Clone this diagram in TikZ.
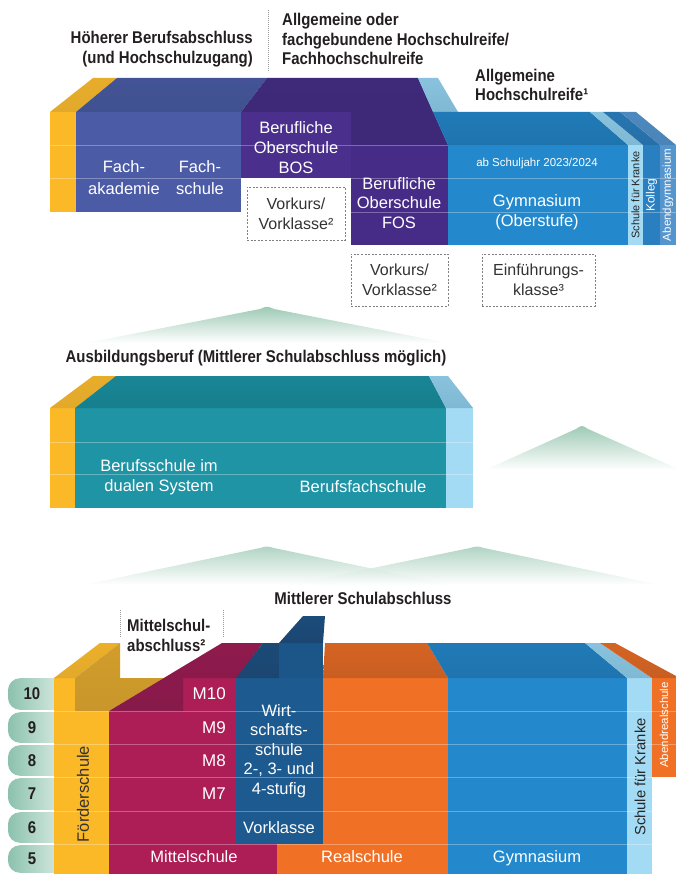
\documentclass[tikz,border=0pt]{standalone}
\usepackage{fontspec}
\setmainfont{Liberation Sans}
\newfontfamily\hdfont{Liberation Sans}[FakeStretch=0.88]
\definecolor{ink}{HTML}{231F20}
\definecolor{yel}{HTML}{FBB927}
\definecolor{yeltop}{HTML}{E2A92B}
\definecolor{gold}{HTML}{C8962B}
\definecolor{fab}{HTML}{4C5BA6}
\definecolor{fabtop}{HTML}{405190}
\definecolor{bos}{HTML}{4B2F8C}
\definecolor{fos}{HTML}{462C87}
\definecolor{purtop}{HTML}{3D2977}
\definecolor{gym}{HTML}{2389CC}
\definecolor{gymtop}{HTML}{1F74AE}
\definecolor{lbl}{HTML}{A3DBF5}
\definecolor{lbltop}{HTML}{7FB8D3}
\definecolor{kol}{HTML}{2A7FC0}
\definecolor{koltop}{HTML}{2670A8}
\definecolor{abg}{HTML}{5595CE}
\definecolor{abgtop}{HTML}{4A84B8}
\definecolor{tealc}{HTML}{1E94A5}
\definecolor{tealtop}{HTML}{177F8E}
\definecolor{mag}{HTML}{AD1D56}
\definecolor{magtop}{HTML}{871A4A}
\definecolor{wsb}{HTML}{1D5A8F}
\definecolor{wstop}{HTML}{1B4671}
\definecolor{ora}{HTML}{F07125}
\definecolor{oratop}{HTML}{C95E22}
\definecolor{hill}{HTML}{9CC9B4}
\definecolor{mint}{HTML}{8CC2AD}
\definecolor{mintl}{HTML}{EAF4F0}
\tikzset{
  hd/.style={font=\hdfont\bfseries\fontsize{17}{19.5}\selectfont, text=ink, inner sep=0pt},
  wt/.style={font=\fontsize{16.5}{#1}\selectfont, text=white, inner sep=0pt, align=center},
  wt/.default=20,
  bx/.style={font=\fontsize{16}{20}\selectfont, text=black!80, inner sep=0pt, align=center},
  num/.style={font=\hdfont\bfseries\fontsize{17}{19}\selectfont, text=ink, inner sep=0pt},
  dbox/.style={draw=black!50, dash pattern=on 2pt off 1.6pt, line width=0.7pt},
  dotl/.style={draw=black!40, dash pattern=on 0.8pt off 1.2pt, line width=0.6pt},
  rl/.style={draw=white, draw opacity=0.3, line width=0.8pt},
  tf/.style 2 args={top color=#1, bottom color=#2},
  hillsh/.style={top color=hill, middle color=hill!75!white, bottom color=white},
  rot/.style={rotate=90, inner sep=0pt},
}
\begin{document}
\begin{tikzpicture}[x=1pt,y=-1pt]
\useasboundingbox (0,0) rectangle (676,874);

% ---------------- hills
\shade[hillsh] (86,343) -- (260,309) .. controls (267,306) .. (274,309) -- (448,343) -- cycle;
\shade[hillsh] (485,470) -- (576,429) .. controls (582,425) .. (588,429) -- (676,468) -- (676,470) -- cycle;
\shade[hillsh, fill opacity=0.8] (83,585) -- (260,548) .. controls (267,546) .. (274,548) -- (450,585) -- cycle;
\shade[hillsh, fill opacity=0.8] (290,585) -- (470,548) .. controls (477,546) .. (484,548) -- (660,585) -- cycle;

% ---------------- headings top
\node[hd, anchor=east, align=right] (h1) at (253,49) {Höherer Berufsabschluss\\(und Hochschulzugang)};
\node[hd, anchor=west, align=left] (h2) at (282,39) {Allgemeine oder\\fachgebundene Hochschulreife/\\Fachhochschulreife};
\node[hd, anchor=west, align=left] (h3) at (475,85) {Allgemeine\\Hochschulreife¹};
\coordinate (d1a) at (268,10); \coordinate (d1b) at (268,72);
\draw[dotl] (d1a) -- (d1b);

% ---------------- top block
\fill[yel] (50,112) rectangle (76,212);
\shade[tf={yeltop!80!yel}{yeltop}] (50,112) -- (93,78) -- (117,78) -- (76,112) -- cycle;
\fill[fab] (76,112) rectangle (241,212);
\shade[tf={fabtop!75!fab}{fabtop}] (76,112) -- (117,78) -- (267,78) -- (241,112) -- cycle;
\shade[tf={purtop!80!fos}{purtop}] (241,112) -- (267,78) -- (418,78) -- (448,145) -- (351,145) -- (351,112) -- cycle;
\fill[bos] (241,112) rectangle (351,178);
\fill[fos] (351,145) rectangle (448,245);
\shade[tf={lbltop!70!lbl}{lbltop}] (418,78) -- (438,78) -- (458,112) -- (433,112) -- cycle;
\shade[tf={gymtop!70!gym}{gymtop}] (433,112) -- (590,112) -- (628,145) -- (448,145) -- cycle;
\shade[tf={lbltop!70!lbl}{lbltop}] (590,112) -- (603,112) -- (643,145) -- (628,145) -- cycle;
\shade[tf={koltop!70!kol}{koltop}] (603,112) -- (620,112) -- (660,145) -- (643,145) -- cycle;
\shade[tf={abgtop!70!abg}{abgtop}] (620,112) -- (636,112) -- (676,145) -- (660,145) -- cycle;
\fill[gym] (448,145) rectangle (628,245);
\fill[lbl] (628,145) rectangle (643,245);
\fill[kol] (643,145) rectangle (660,245);
\fill[abg] (660,145) rectangle (676,245);
\draw[rl] (50,145) -- (448,145);
\draw[rl] (50,178) -- (676,178);
\draw[rl] (351,212) -- (676,212);

\node[wt=22] (fak) at (124,178) {Fach-\\akademie};
\node[wt=22] (fsc) at (200,178) {Fach-\\schule};
\node[wt=20] (bos) at (296,148) {Berufliche\\Oberschule\\BOS};
\node[dbox, bx, minimum width=98pt, minimum height=53pt] (vk1) at (296,213.5) {Vorkurs/\\Vorklasse²};
\node[wt=19.5] (fos) at (399,203) {Berufliche\\Oberschule\\FOS};
\node[font=\fontsize{11.5}{13}\selectfont, text=white, inner sep=0pt] (sj) at (537,164) {ab Schuljahr 2023/2024};
\node[wt=20] (gyo) at (537,212.5) {Gymnasium\\(Oberstufe)};
\node[rot, font=\fontsize{11}{13}\selectfont, text=black!85] (sk1) at (635.5,195) {Schule für Kranke};
\node[rot, font=\fontsize{12}{13}\selectfont, text=white] (kol) at (651.5,195) {Kolleg};
\node[rot, font=\fontsize{11.5}{13}\selectfont, text=white] (abg) at (668,195) {Abendgymnasium};
\node[dbox, bx, minimum width=97pt, minimum height=52pt] (vk2) at (399.5,280) {Vorkurs/\\Vorklasse²};
\node[dbox, bx, minimum width=113pt, minimum height=52pt] (ek) at (538.5,280) {Einführungs-\\klasse³};

% ---------------- middle block
\node[hd] (ab) at (256,358) {Ausbildungsberuf (Mittlerer Schulabschluss möglich)};
\fill[yel] (50,408) rectangle (75,508);
\shade[tf={yeltop!80!yel}{yeltop}] (50,408) -- (93,376) -- (116,376) -- (75,408) -- cycle;
\fill[tealc] (75,408) rectangle (446,508);
\shade[tf={tealtop!70!tealc}{tealtop}] (75,408) -- (116,376) -- (429,376) -- (446,408) -- cycle;
\fill[lbl] (446,408) rectangle (473,508);
\shade[tf={lbltop!70!lbl}{lbltop}] (446,408) -- (429,376) -- (448,376) -- (473,408) -- cycle;
\draw[rl] (50,442) -- (473,442);
\draw[rl] (50,474) -- (473,474);
\node[wt=20] (bsd) at (159,477) {Berufsschule im\\dualen System};
\node[wt] (bfs) at (363,487) {Berufsfachschule};

% ---------------- bottom headings
\node[hd] (ms) at (363,598) {Mittlerer Schulabschluss};
\node[hd, anchor=west, align=left] (msa) at (127,635.5) {Mittelschul-\\abschluss²};
\coordinate (d2a) at (120,610); \coordinate (d2b) at (120,637);
\coordinate (d3a) at (223,610); \coordinate (d3b) at (223,637);
\draw[dotl] (d2a) -- (d2b);
\draw[dotl] (d3a) -- (d3b);

% ---------------- grade pills
\foreach \t/\b/\g in {677/711/10, 711/744/9, 744/777/8, 777/811/7, 811/844/6, 844/874/5}{
  \shade[left color=mint, right color=mintl, rounded corners=12pt] (8,\t+1.2) rectangle (75,\b-1.2);
}

% ---------------- bottom block
\fill[yel] (54,678) -- (75,678) -- (75,711) -- (109,711) -- (109,874) -- (54,874) -- cycle;
\shade[tf={yeltop!60!yel}{yeltop}] (54,678) -- (100,643) -- (120,643) -- (75,678) -- cycle;
\shade[tf={gold!80!yel}{gold}] (75,711) -- (109,711) -- (164,678) -- (120,678) -- (120,643) -- (75,678) -- cycle;
\fill[mag] (109,711) rectangle (236,844);
\fill[mag] (109,844) rectangle (277,874);
\fill[mag] (183,678) rectangle (236,711);
\shade[tf={magtop!80!mag}{magtop}] (109,711) -- (183,711) -- (183,678) -- (237,678) -- (263,643) -- (222,643) -- cycle;
\fill[wsb] (236,678) rectangle (323,844);
\shade[tf={wstop!80!wsb}{wstop}] (236,678) -- (263,643) -- (279,643) -- (279,678) -- cycle;
\fill[wsb!95!black] (279,643) rectangle (323,678);
\shade[tf={wstop!70!wsb}{wstop}] (279,643) -- (303,616) -- (325,616) -- (323,643) -- cycle;
\fill[ora] (323,678) -- (448,678) -- (448,874) -- (277,874) -- (277,844) -- (323,844) -- cycle;
\shade[tf={oratop!70!ora}{oratop}] (323,678) -- (325,643) -- (427,643) -- (448,678) -- cycle;
\fill[gym] (448,678) rectangle (627,874);
\shade[tf={gymtop!70!gym}{gymtop}] (448,678) -- (427,643) -- (585,643) -- (627,678) -- cycle;
\fill[lbl] (627,678) rectangle (652,874);
\shade[tf={lbltop!70!lbl}{lbltop}] (627,678) -- (585,643) -- (600,643) -- (652,678) -- cycle;
\fill[ora] (652,678) rectangle (676,777);
\shade[tf={oratop!70!ora}{oratop}] (652,678) -- (600,643) -- (615,643) -- (676,676) -- (676,678) -- cycle;

\draw[rl] (8,711) -- (676,711);
\draw[rl] (8,744) -- (676,744);
\draw[rl] (8,777) -- (652,777);
\draw[rl] (8,811) -- (652,811);
\draw[rl] (8,844) -- (652,844);

\node[num] (g10) at (32,694) {10};
\node[num] (g9) at (32,727.5) {9};
\node[num] (g8) at (32,760.5) {8};
\node[num] (g7) at (32,794) {7};
\node[num] (g6) at (32,827.5) {6};
\node[num] (g5) at (32,859) {5};

\node[rot, font=\fontsize{16.5}{20}\selectfont, text=black!80] (fs) at (83,794) {Förderschule};
\node[font=\fontsize{17}{20}\selectfont, text=white, anchor=east, inner sep=0pt] (m10) at (226,694) {M10};
\node[font=\fontsize{17}{20}\selectfont, text=white, anchor=east, inner sep=0pt] (m9) at (226,727.5) {M9};
\node[font=\fontsize{17}{20}\selectfont, text=white, anchor=east, inner sep=0pt] (m8) at (226,760.5) {M8};
\node[font=\fontsize{17}{20}\selectfont, text=white, anchor=east, inner sep=0pt] (m7) at (226,794) {M7};
\node[wt=19.5] (ws) at (279,751) {Wirt-\\schafts-\\schule\\2-, 3- und\\4-stufig};
\node[wt] (vkl) at (279,827.5) {Vorklasse};
\node[wt] (mis) at (194,857) {Mittelschule};
\node[wt] (rs) at (362,857) {Realschule};
\node[wt] (gy) at (537,858) {Gymnasium};
\node[rot, font=\fontsize{14.8}{16}\selectfont, text=black!85] (sk2) at (640,777) {Schule für Kranke};
\node[rot, font=\fontsize{11.5}{13}\selectfont, text=white] (ars) at (664,725) {Abendrealschule};
\end{tikzpicture}
\end{document}
